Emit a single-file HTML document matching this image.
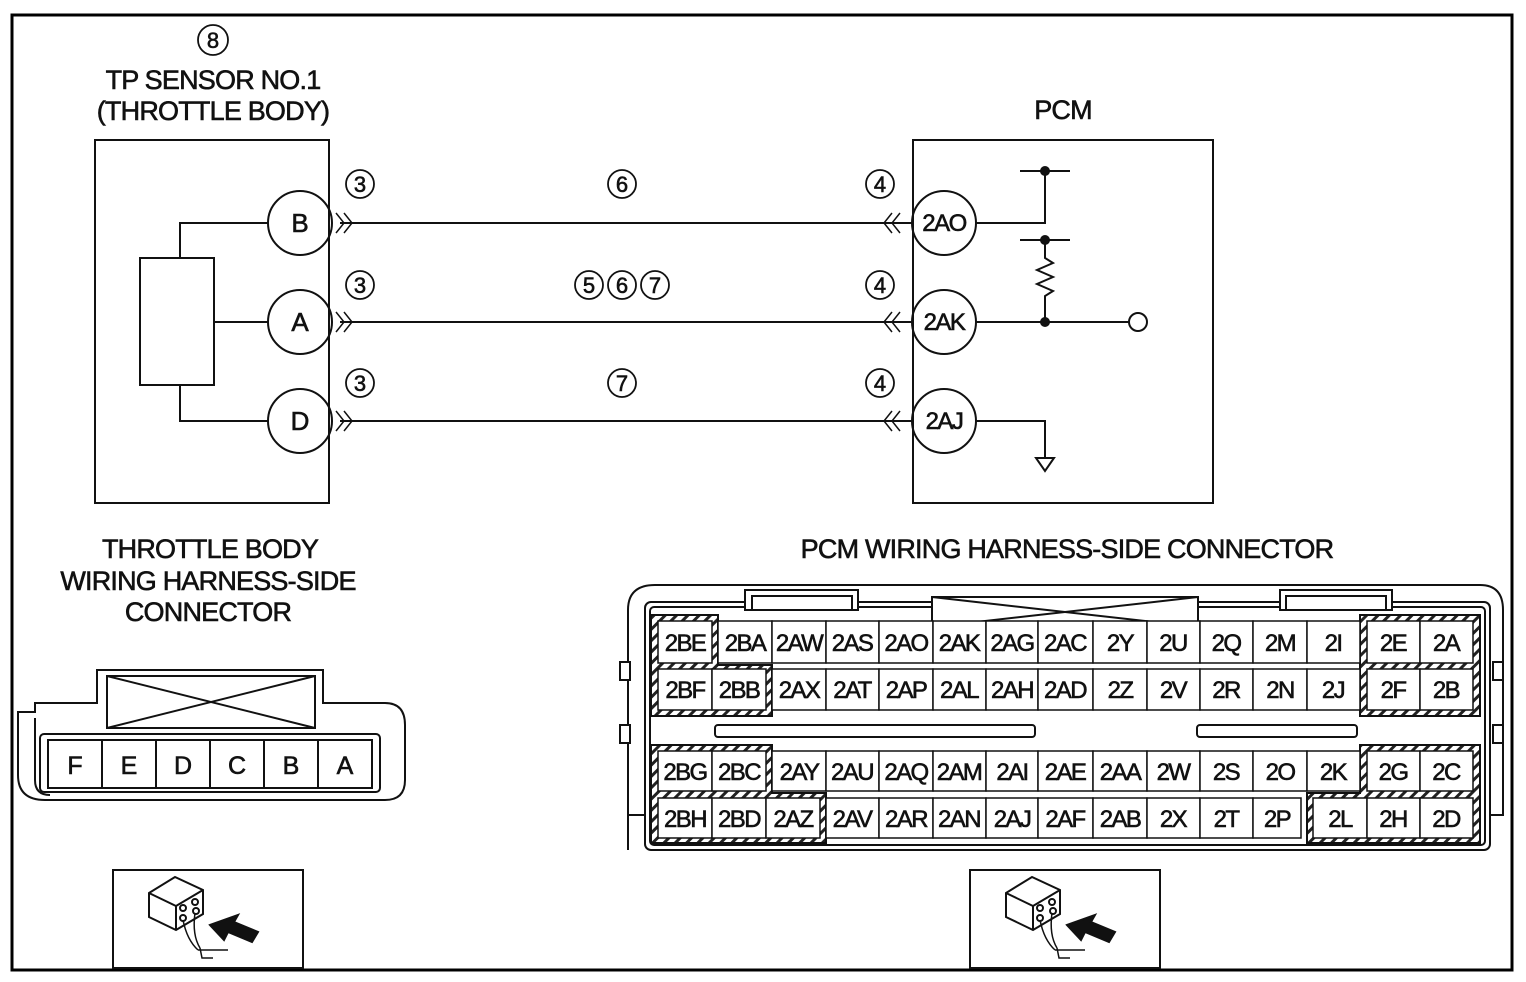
<!DOCTYPE html>
<html><head><style>
body{margin:0;background:#fff}
svg{display:block;font-family:"Liberation Sans",sans-serif}
text{fill:#111;stroke:#111;stroke-width:0.6}
</style></head><body>
<svg width="1526" height="982" viewBox="0 0 1526 982" xmlns="http://www.w3.org/2000/svg">
<defs>
<pattern id="h" width="8" height="8" patternUnits="userSpaceOnUse" patternTransform="rotate(45)"><rect width="8" height="8" fill="#fff"/><rect width="3" height="8" fill="#222"/></pattern>
</defs>
<rect x="12" y="15" width="1500" height="955" fill="none" stroke="#000" stroke-width="3"/>
<g stroke="#111" stroke-width="2" fill="none">
<rect x="95" y="140" width="234" height="363"/>
<rect x="913" y="140" width="300" height="363"/>
<rect x="140" y="258" width="74" height="127"/>
<polyline points="180,258 180,223 268,223"/>
<line x1="214" y1="322" x2="268" y2="322"/>
<polyline points="180,385 180,421 268,421"/>
<circle cx="300" cy="223" r="32"/><circle cx="300" cy="322" r="32"/><circle cx="300" cy="421" r="32"/>
<circle cx="944" cy="223" r="32"/><circle cx="944" cy="322" r="32"/><circle cx="944" cy="421" r="32"/>
<line x1="340" y1="223" x2="912" y2="223"/><line x1="340" y1="322" x2="912" y2="322"/><line x1="340" y1="421" x2="912" y2="421"/>
<g stroke-width="1.5">
<polyline points="336,213 344,223 336,233"/><polyline points="344,213 352,223 344,233"/>
<polyline points="336,312 344,322 336,332"/><polyline points="344,312 352,322 344,332"/>
<polyline points="336,411 344,421 336,431"/><polyline points="344,411 352,421 344,431"/>
<polyline points="892,213 884,223 892,233"/><polyline points="900,213 892,223 900,233"/>
<polyline points="892,312 884,322 892,332"/><polyline points="900,312 892,322 900,332"/>
<polyline points="892,411 884,421 892,431"/><polyline points="900,411 892,421 900,431"/>
</g>
<polyline points="976,223 1045,223 1045,171"/><line x1="1020" y1="171" x2="1070" y2="171"/>
<line x1="1020" y1="240" x2="1070" y2="240"/>
<polyline points="1045,240 1045,258 1053,263 1037,270 1053,277 1037,284 1053,291 1045,296 1045,322"/>
<line x1="976" y1="322" x2="1129" y2="322"/><circle cx="1138" cy="322" r="9"/>
<polyline points="976,421 1045,421 1045,458"/>
<polygon points="1036,458 1054,458 1045,471"/>
<!-- circled number rings -->
<g stroke-width="1.8">
<circle cx="213" cy="40" r="15"/>
<circle cx="360" cy="184" r="14"/><circle cx="360" cy="285" r="14"/><circle cx="360" cy="383" r="14"/>
<circle cx="880" cy="184" r="14"/><circle cx="880" cy="285" r="14"/><circle cx="880" cy="383" r="14"/>
<circle cx="622" cy="184" r="14"/><circle cx="622" cy="383" r="14"/>
<circle cx="589" cy="285" r="14"/><circle cx="622" cy="285" r="14"/><circle cx="655" cy="285" r="14"/>
</g>
</g>
<g fill="#111"><circle cx="1045" cy="171" r="5"/><circle cx="1045" cy="240" r="5"/><circle cx="1045" cy="322" r="5"/></g>
<g font-size="26" text-anchor="middle">
<text x="300" y="232">B</text><text x="300" y="331">A</text><text x="300" y="430">D</text>
<g font-size="24" letter-spacing="-1.5"><text x="944" y="231">2AO</text><text x="944" y="330">2AK</text><text x="944" y="429">2AJ</text></g>
<g font-size="22">
<text x="213" y="48">8</text>
<text x="360" y="192">3</text><text x="360" y="293">3</text><text x="360" y="391">3</text>
<text x="880" y="192">4</text><text x="880" y="293">4</text><text x="880" y="391">4</text>
<text x="622" y="192">6</text><text x="622" y="391">7</text>
<text x="589" y="293">5</text><text x="622" y="293">6</text><text x="655" y="293">7</text>
</g>
<g font-size="27" letter-spacing="-0.8">
<text x="213" y="89">TP SENSOR NO.1</text>
<text x="213" y="120">(THROTTLE BODY)</text>
<text x="1063" y="119">PCM</text>
<text x="210" y="558">THROTTLE BODY</text>
<text x="208" y="590">WIRING HARNESS-SIDE</text>
<text x="208" y="621">CONNECTOR</text>
<text x="1067" y="558">PCM WIRING HARNESS-SIDE CONNECTOR</text>
</g>
</g>
<!-- left connector -->
<g stroke="#111" stroke-width="2" fill="#fff">
<path d="M18,712 L35,712 L35,703 L97,703 L97,670 L323,670 L323,703 L385,703 Q405,703 405,725 L405,780 Q405,800 385,800 L45,800 Q18,800 18,775 Z"/>
<path d="M35,718 L35,780 Q35,795 50,795" fill="none"/>
<rect x="107" y="676" width="208" height="52"/>
<line x1="107" y1="676" x2="315" y2="728"/><line x1="315" y1="676" x2="107" y2="728"/>
<rect x="40" y="734" width="340" height="58" rx="4"/>
<rect x="48" y="740" width="324" height="48"/>
<line x1="102" y1="740" x2="102" y2="788"/><line x1="156" y1="740" x2="156" y2="788"/><line x1="210" y1="740" x2="210" y2="788"/><line x1="264" y1="740" x2="264" y2="788"/><line x1="318" y1="740" x2="318" y2="788"/>
</g>
<g font-size="25" text-anchor="middle">
<text x="75" y="774">F</text><text x="129" y="774">E</text><text x="183" y="774">D</text><text x="237" y="774">C</text><text x="291" y="774">B</text><text x="345" y="774">A</text>
</g>
<!-- PCM connector -->
<g stroke="#111" stroke-width="2" fill="none">
<path d="M628,850 L628,610 Q628,585 655,585 L1480,585 Q1503,585 1503,610 L1503,815 L1490,815"/>
<path d="M628,815 L645,815"/>
<rect x="620" y="662" width="10" height="18" fill="#fff"/><rect x="620" y="725" width="10" height="18" fill="#fff"/>
<rect x="1493" y="662" width="10" height="18" fill="#fff"/><rect x="1493" y="725" width="10" height="18" fill="#fff"/>
<rect x="645" y="602" width="845" height="248" rx="6" fill="#fff"/>
<rect x="650" y="607" width="835" height="238" rx="4"/>
<rect x="745" y="590" width="113" height="20" fill="#fff"/><rect x="752" y="596" width="100" height="14"/>
<rect x="1280" y="590" width="112" height="20" fill="#fff"/><rect x="1286" y="596" width="100" height="14"/>
<rect x="932" y="597" width="266" height="30" fill="#fff"/>
<line x1="932" y1="597" x2="1198" y2="627"/><line x1="1198" y1="597" x2="932" y2="627"/>
<rect x="715" y="725" width="320" height="12" rx="3"/>
<rect x="1197" y="725" width="160" height="12" rx="3"/>
</g>
<g stroke="#111" stroke-width="2" fill="url(#h)">
<path d="M651,615 L718,615 L718,665 L772,665 L772,716 L651,716 Z"/>
<path d="M651,745 L772,745 L772,793 L826,793 L826,843 L651,843 Z"/>
<path d="M1360,615 L1480,615 L1480,716 L1360,716 Z"/>
<path d="M1360,745 L1480,745 L1480,843 L1307,843 L1307,793 L1360,793 Z"/>
</g>
<g stroke="#111" stroke-width="1.5" fill="#fff">
<rect x="658" y="621" width="54" height="42"/>
<rect x="718" y="621" width="54" height="42"/>
<rect x="772" y="621" width="54" height="42"/><rect x="826" y="621" width="53" height="42"/><rect x="879" y="621" width="54" height="42"/><rect x="933" y="621" width="53" height="42"/><rect x="986" y="621" width="52" height="42"/><rect x="1038" y="621" width="55" height="42"/><rect x="1093" y="621" width="54" height="42"/><rect x="1147" y="621" width="53" height="42"/><rect x="1200" y="621" width="53" height="42"/><rect x="1253" y="621" width="54" height="42"/><rect x="1307" y="621" width="53" height="42"/>
<rect x="1367" y="621" width="53" height="42"/><rect x="1420" y="621" width="53" height="42"/>
<rect x="658" y="669" width="54" height="41"/><rect x="712" y="669" width="54" height="41"/>
<rect x="772" y="669" width="54" height="41"/><rect x="826" y="669" width="53" height="41"/><rect x="879" y="669" width="54" height="41"/><rect x="933" y="669" width="53" height="41"/><rect x="986" y="669" width="52" height="41"/><rect x="1038" y="669" width="55" height="41"/><rect x="1093" y="669" width="54" height="41"/><rect x="1147" y="669" width="53" height="41"/><rect x="1200" y="669" width="53" height="41"/><rect x="1253" y="669" width="54" height="41"/><rect x="1307" y="669" width="53" height="41"/>
<rect x="1367" y="669" width="53" height="41"/><rect x="1420" y="669" width="53" height="41"/>
<rect x="658" y="751" width="54" height="40"/><rect x="712" y="751" width="54" height="40"/>
<rect x="772" y="751" width="54" height="40"/><rect x="826" y="751" width="53" height="40"/><rect x="879" y="751" width="54" height="40"/><rect x="933" y="751" width="53" height="40"/><rect x="986" y="751" width="52" height="40"/><rect x="1038" y="751" width="55" height="40"/><rect x="1093" y="751" width="54" height="40"/><rect x="1147" y="751" width="53" height="40"/><rect x="1200" y="751" width="53" height="40"/><rect x="1253" y="751" width="54" height="40"/><rect x="1307" y="751" width="53" height="40"/>
<rect x="1367" y="751" width="53" height="40"/><rect x="1420" y="751" width="53" height="40"/>
<rect x="658" y="798" width="54" height="40"/><rect x="712" y="798" width="54" height="40"/><rect x="766" y="798" width="54" height="40"/>
<rect x="826" y="798" width="53" height="40"/><rect x="879" y="798" width="54" height="40"/><rect x="933" y="798" width="53" height="40"/><rect x="986" y="798" width="52" height="40"/><rect x="1038" y="798" width="55" height="40"/><rect x="1093" y="798" width="54" height="40"/><rect x="1147" y="798" width="53" height="40"/><rect x="1200" y="798" width="53" height="40"/><rect x="1253" y="798" width="48" height="40"/>
<rect x="1313" y="798" width="54" height="40"/><rect x="1367" y="798" width="53" height="40"/><rect x="1420" y="798" width="53" height="40"/>
</g>
<g font-size="24" text-anchor="middle" letter-spacing="-1.6">
<text x="685" y="651">2BE</text><text x="745" y="651">2BA</text><text x="799" y="651">2AW</text><text x="852" y="651">2AS</text><text x="906" y="651">2AO</text><text x="959" y="651">2AK</text><text x="1012" y="651">2AG</text><text x="1065" y="651">2AC</text><text x="1120" y="651">2Y</text><text x="1173" y="651">2U</text><text x="1226" y="651">2Q</text><text x="1280" y="651">2M</text><text x="1333" y="651">2I</text><text x="1393" y="651">2E</text><text x="1446" y="651">2A</text>
<text x="685" y="698">2BF</text><text x="739" y="698">2BB</text><text x="799" y="698">2AX</text><text x="852" y="698">2AT</text><text x="906" y="698">2AP</text><text x="959" y="698">2AL</text><text x="1012" y="698">2AH</text><text x="1065" y="698">2AD</text><text x="1120" y="698">2Z</text><text x="1173" y="698">2V</text><text x="1226" y="698">2R</text><text x="1280" y="698">2N</text><text x="1333" y="698">2J</text><text x="1393" y="698">2F</text><text x="1446" y="698">2B</text>
<text x="685" y="780">2BG</text><text x="739" y="780">2BC</text><text x="799" y="780">2AY</text><text x="852" y="780">2AU</text><text x="906" y="780">2AQ</text><text x="959" y="780">2AM</text><text x="1012" y="780">2AI</text><text x="1065" y="780">2AE</text><text x="1120" y="780">2AA</text><text x="1173" y="780">2W</text><text x="1226" y="780">2S</text><text x="1280" y="780">2O</text><text x="1333" y="780">2K</text><text x="1393" y="780">2G</text><text x="1446" y="780">2C</text>
<text x="685" y="827">2BH</text><text x="739" y="827">2BD</text><text x="793" y="827">2AZ</text><text x="852" y="827">2AV</text><text x="906" y="827">2AR</text><text x="959" y="827">2AN</text><text x="1012" y="827">2AJ</text><text x="1065" y="827">2AF</text><text x="1120" y="827">2AB</text><text x="1173" y="827">2X</text><text x="1226" y="827">2T</text><text x="1277" y="827">2P</text><text x="1340" y="827">2L</text><text x="1393" y="827">2H</text><text x="1446" y="827">2D</text>
</g>
<!-- icons -->
<g stroke="#111" stroke-width="2" fill="#fff">
<rect x="113" y="870" width="190" height="98"/>
<rect x="970" y="870" width="190" height="98"/>
<g id="ic">
<path d="M149,893 L175,877 L203,890 L203,914 L176,930 L149,917 Z"/>
<path d="M149,893 L176,906 L203,890 M176,906 L176,930" fill="none"/>
<circle cx="183" cy="908" r="3"/><circle cx="195" cy="902" r="3"/><circle cx="183" cy="918" r="3"/><circle cx="196" cy="911" r="3"/>
<path d="M183,920 Q187,940 198,950 M195,913 Q192,935 200,948 M198,950 L228,950 M200,948 L202,958 L213,958" fill="none" stroke-width="1.5"/>
<polygon points="210,925 238,915 234,922 258,932 252,942 228,932 224,940" fill="#111"/>
</g>
<use href="#ic" transform="translate(857,0)"/>
</g>
</svg>
</body></html>
